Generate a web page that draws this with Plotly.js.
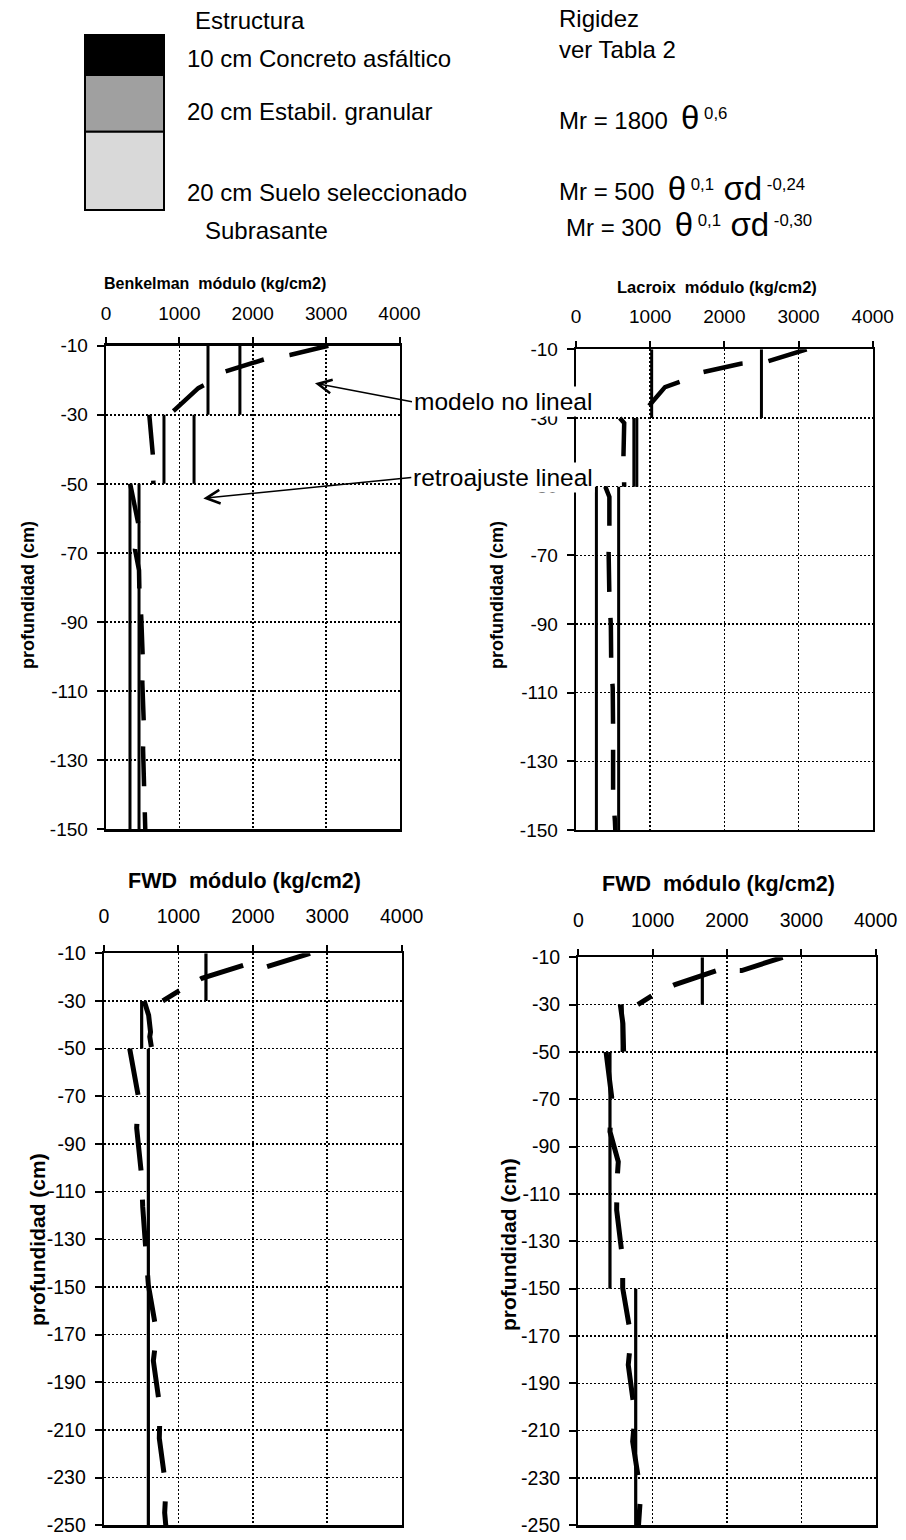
<!DOCTYPE html>
<html><head><meta charset="utf-8">
<script src="https://cdn.plot.ly/plotly-3.0.1.min.js"></script>
<style>html,body{margin:0;padding:0;background:#fff}#chart{width:906px;height:1540px}</style>
</head><body><div id="chart"></div>
<script>
// ---------------- data ----------------
const xTickVals = [0, 1000, 2000, 3000, 4000];
const xTickText = ['0', '1000', '2000', '3000', '4000'];
const yTickValsTop = [-10, -30, -50, -70, -90, -110, -130, -150];
const yTickTextTop = ['-10', '-30', '-50', '-70', '-90', '-110', '-130', '-150'];
const yTickValsBot = [-10, -30, -50, -70, -90, -110, -130, -150, -170, -190, -210, -230, -250];
const yTickTextBot = ['-10', '-30', '-50', '-70', '-90', '-110', '-130', '-150', '-170', '-190', '-210', '-230', '-250'];

// Benkelman (linear back-calculation per layer + non-linear model)
const benkLayerTop = [-10, -30, -50];
const benkLayerBottom = [-30, -50, -150];
const benkRetroA = [1390, 790, 327];
const benkRetroB = [1825, 1200, 450];
const benkModelDepth = [-10, -12.7, -13.9, -17.5, -21.3, -22.3, -28.5, -30, null,
  -30, -36, -42, -50, null,
  -50, -61.5, -69, -75, -81, -88.4, -100, -107.5, -119.3, -126.6, -138.4, -145.6, -150];
const benkModelValue = [3030, 2507, 2166, 1621, 1349, 1258, 940, 860, null,
  590, 615, 640, 645, null,
  330, 440, 395, 450, 455, 480, 500, 495, 515, 505, 520, 520, 535];

// Lacroix
const lacLayerTop = [-10, -30, -50];
const lacLayerBottom = [-30, -50, -150];
const lacRetroA = [1020, 780, 275];
const lacRetroB = [2500, 820, 575];
const lacModelDepth = [-10, -13.6, -14.2, -16.9, -19.5, -21, -27.8, -30, null,
  -30, -31.5, -41, -50, null,
  -50, -53, -61.7, -69.4, -81.9, -90.5, -102.7, -108.6, -120.8, -128, -140.2, -147.5, -150];
const lacModelValue = [3110, 2570, 2220, 1660, 1400, 1200, 930, 870, null,
  590, 650, 640, 650, null,
  395, 450, 450, 440, 450, 470, 475, 495, 500, 495, 500, 525, 530];

// FWD (left)
const fwd1LayerTop = [-10, -30, -50];
const fwd1LayerBottom = [-30, -50, -250];
const fwd1Retro = [1370, 506, 596];
const fwd1ModelDepth = [-10, -15.6, -15, -20.5, -25.7, -30, null,
  -30, -36, -43, -45, -50, null,
  -50, -70, -83.3, -103.7, -116.3, -135.9, -149.2, -169.4, -181, -201, -213.5, -234.4, -244.7, -250];
const fwd1ModelValue = [2769, 2187, 1872, 1313, 1012, 790, null,
  540, 600, 625, 615, 640, null,
  345, 461, 439, 506, 520, 573, 596, 708, 663, 753, 743, 833, 815, 830];

// FWD (right)
const fwd2LayerTop = [-10, -30, -50, -150];
const fwd2LayerBottom = [-30, -50, -150, -250];
const fwd2Retro = [1668, 590, 426, 772];
const fwd2ModelDepth = [-10, -15.6, -15.6, -21.5, -25.9, -30, null,
  -30, -38, -44, -50, null,
  -50, -69, -83.7, -96.4, -104.8, -116.8, -137.9, -149.8, -170.3, -182.2, -203.4, -214.6, -236.5, -248.9, -250];
const fwd2ModelValue = [2749, 2198, 1861, 1301, 1009, 800, null,
  565, 600, 605, 610, null,
  373, 449, 426, 538, 520, 516, 597, 597, 709, 672, 763, 731, 839, 803, 810];

// ---------------- helpers ----------------
const W = 906, H = 1540;
const FONT = 'Liberation Sans, Arial, Helvetica, sans-serif';
const px = v => v / W;
const py = v => 1 - v / H;

function steps(values, tops, bottoms) {
  const x = [], y = [];
  values.forEach((v, i) => { x.push(v, v, null); y.push(tops[i], bottoms[i], null); });
  return { x, y };
}
function solidTrace(values, tops, bottoms, xa, ya, w) {
  const s = steps(values, tops, bottoms);
  return { type: 'scatter', mode: 'lines', x: s.x, y: s.y, xaxis: xa, yaxis: ya,
    line: { color: '#000', width: w }, connectgaps: false, hoverinfo: 'skip', showlegend: false };
}
// one dashed trace per layer segment (segments separated by null in the data)
function modelTraces(values, depths, xa, ya, w, dashes) {
  const out = [];
  let xs = [], ys = [];
  const flush = () => {
    if (xs.length) {
      const k = out.length;
      out.push({ type: 'scatter', mode: 'lines', x: xs, y: ys, xaxis: xa, yaxis: ya,
        line: { color: '#000', width: w, dash: dashes[Math.min(k, dashes.length - 1)] },
        hoverinfo: 'skip', showlegend: false });
    }
    xs = []; ys = [];
  };
  values.forEach((v, i) => {
    if (v === null || depths[i] === null) flush(); else { xs.push(v); ys.push(depths[i]); }
  });
  flush();
  return out;
}

const traces = [
  solidTrace(benkRetroA, benkLayerTop, benkLayerBottom, 'x', 'y', 3),
  solidTrace(benkRetroB, benkLayerTop, benkLayerBottom, 'x', 'y', 3),
  ...modelTraces(benkModelValue, benkModelDepth, 'x', 'y', 4.5, ['40px,26px']),
  solidTrace(lacRetroA, lacLayerTop, lacLayerBottom, 'x2', 'y2', 3),
  solidTrace(lacRetroB, lacLayerTop, lacLayerBottom, 'x2', 'y2', 3),
  ...modelTraces(lacModelValue, lacModelDepth, 'x2', 'y2', 4.5, ['40px,26px']),
  solidTrace(fwd1Retro, fwd1LayerTop, fwd1LayerBottom, 'x3', 'y3', 3.2),
  ...modelTraces(fwd1ModelValue, fwd1ModelDepth, 'x3', 'y3', 5, ['45px,24px', '47px,29px']),
  solidTrace(fwd2Retro, fwd2LayerTop, fwd2LayerBottom, 'x4', 'y4', 3.2),
  ...modelTraces(fwd2ModelValue, fwd2ModelDepth, 'x4', 'y4', 5, ['45px,24px', '47px,29px'])
];

function xAxis(d0, d1, anchor, fs, standoff) {
  return { domain: [px(d0), px(d1)], anchor: anchor, side: 'top', range: [0, 4000],
    tickmode: 'array', tickvals: xTickVals, ticktext: xTickText,
    ticks: 'outside', ticklen: 6, tickwidth: 2, tickcolor: '#000', ticklabelstandoff: standoff,
    showline: true, linecolor: '#000', linewidth: 2.3, mirror: true,
    showgrid: true, gridcolor: '#000', gridwidth: 1.6, griddash: '2px,2px',
    zeroline: false, fixedrange: true, tickfont: { family: FONT, size: fs, color: '#000' } };
}
function yAxis(top, bottom, anchor, vals, text, lo, fs) {
  return { domain: [py(bottom), py(top)], anchor: anchor, range: [lo, -10],
    tickmode: 'array', tickvals: vals, ticktext: text,
    ticks: 'outside', ticklen: 7, tickwidth: 2, tickcolor: '#000', ticklabelstandoff: 5,
    showline: true, linecolor: '#000', linewidth: 2.3, mirror: true,
    showgrid: true, gridcolor: '#000', gridwidth: 1.6, griddash: '2px,2px',
    zeroline: false, fixedrange: true, tickfont: { family: FONT, size: fs, color: '#000' } };
}

function txt(x, y, text, size, opts) {
  return Object.assign({ xref: 'paper', yref: 'paper', x: px(x), y: py(y), text: text,
    showarrow: false, xanchor: 'left', yanchor: 'middle',
    font: { family: FONT, size: size, color: '#000' } }, opts || {});
}
const BIG = s => '<span style="font-size:33px">' + s + '</span>';

const annotations = [
  // structure legend
  txt(193, 20, 'Estructura', 24),
  txt(185, 59, '10 cm Concreto asfáltico', 24),
  txt(185, 111, '20 cm Estabil. granular', 24),
  txt(185, 193, '20 cm Suelo seleccionado', 24),
  txt(203, 230, 'Subrasante', 24),
  // stiffness
  txt(557, 19, 'Rigidez', 24),
  txt(557, 50, 'ver Tabla 2', 24),
  txt(557, 118, 'Mr = 1800  ' + BIG('θ') + '<sup> 0,6</sup>', 24),
  txt(557, 188, 'Mr = 500  ' + BIG('θ') + '<sup> 0,1  </sup>' + BIG('σd') + '<sup> -0,24</sup>', 24),
  txt(564, 224, 'Mr = 300  ' + BIG('θ') + '<sup> 0,1  </sup>' + BIG('σd') + '<sup> -0,30</sup>', 24),
  // axis titles
  txt(215, 283, '<b>Benkelman  módulo (kg/cm2)</b>', 16, { xanchor: 'center' }),
  txt(717, 287, '<b>Lacroix  módulo (kg/cm2)</b>', 16.5, { xanchor: 'center' }),
  txt(244, 881, '<b>FWD  módulo (kg/cm2)</b>', 21.5, { xanchor: 'center' }),
  txt(718, 884, '<b>FWD  módulo (kg/cm2)</b>', 21.5, { xanchor: 'center' }),
  txt(28, 595, '<b>profundidad (cm)</b>', 18, { xanchor: 'center', textangle: -90 }),
  txt(497, 595, '<b>profundidad (cm)</b>', 18, { xanchor: 'center', textangle: -90 }),
  txt(37, 1240, '<b>profundidad (cm)</b>', 21, { xanchor: 'center', textangle: -90 }),
  txt(508, 1245, '<b>profundidad (cm)</b>', 21, { xanchor: 'center', textangle: -90 }),
  // arrows
  { xref: 'x', yref: 'y', x: 2848, y: -20.9, ax: 97, ay: 18.4, axref: 'pixel', ayref: 'pixel',
    text: 'modelo no lineal', showarrow: true, arrowhead: 5, arrowsize: 1.8, arrowwidth: 1.5, arrowcolor: '#000',
    xanchor: 'left', yanchor: 'middle', bgcolor: '#fff', borderpad: 1,
    font: { family: FONT, size: 24.5, color: '#000' } },
  { xref: 'x', yref: 'y', x: 1326, y: -54.2, ax: 208, ay: -21, axref: 'pixel', ayref: 'pixel',
    text: 'retroajuste lineal', showarrow: true, arrowhead: 5, arrowsize: 1.8, arrowwidth: 1.5, arrowcolor: '#000',
    xanchor: 'left', yanchor: 'middle', bgcolor: '#fff', borderpad: 1,
    font: { family: FONT, size: 24.5, color: '#000' } }
];

const rect = (x0, y0, x1, y1, fill) => ({ type: 'rect', xref: 'paper', yref: 'paper',
  x0: px(x0), x1: px(x1), y0: py(y1), y1: py(y0), fillcolor: fill,
  line: { color: '#000', width: 2 }, layer: 'above' });
const shapes = [
  rect(85, 35, 164, 75, '#000000'),
  rect(85, 75, 164, 131.7, '#a0a0a0'),
  rect(85, 131.7, 164, 210, '#d9d9d9')
];

const layout = {
  width: W, height: H, autosize: false,
  margin: { l: 0, r: 0, t: 0, b: 0, pad: 0 },
  paper_bgcolor: '#fff', plot_bgcolor: '#fff',
  font: { family: FONT, color: '#000' },
  showlegend: false,
  xaxis: xAxis(106, 399.5, 'y', 19, 10),
  yaxis: yAxis(345.7, 829.3, 'x', yTickValsTop, yTickTextTop, -150, 19),
  xaxis2: xAxis(576, 872.7, 'y2', 19, 10),
  yaxis2: yAxis(349.3, 830, 'x2', yTickValsTop, yTickTextTop, -150, 19),
  xaxis3: xAxis(104, 401.7, 'y3', 19.5, 14),
  yaxis3: yAxis(953.3, 1525.3, 'x3', yTickValsBot, yTickTextBot, -250, 19.5),
  xaxis4: xAxis(578.3, 875.7, 'y4', 19.5, 14),
  yaxis4: yAxis(957.3, 1525.3, 'x4', yTickValsBot, yTickTextBot, -250, 19.5),
  annotations: annotations,
  shapes: shapes
};

Plotly.newPlot('chart', traces, layout, { staticPlot: true, displayModeBar: false });
</script>
</body></html>
